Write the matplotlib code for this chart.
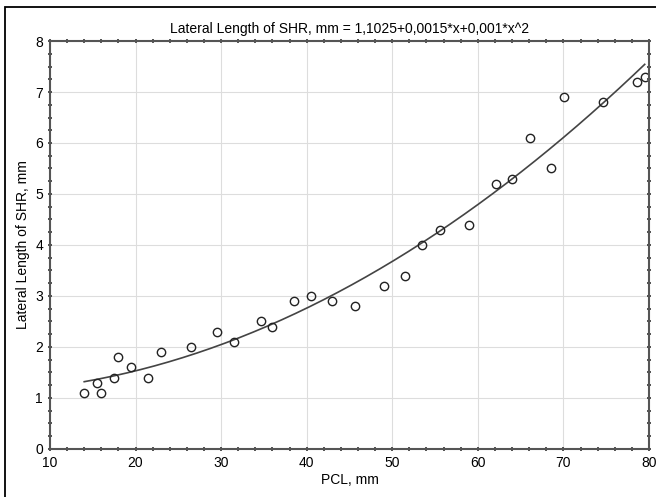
import matplotlib.pyplot as plt
import numpy as np
from matplotlib.patches import Rectangle
from matplotlib.ticker import MultipleLocator

plt.rcParams['font.family'] = ['Liberation Sans', 'DejaVu Sans']

# PCL, mm and lateral length of SHR, mm
pcl = [14.0, 15.5, 16.0, 17.5, 18.0, 19.5, 21.5, 23.0, 26.5, 29.5, 31.5,
       34.7, 35.9, 38.5, 40.5, 43.0, 45.6, 49.0, 51.5, 53.5, 55.6, 59.0,
       62.1, 64.0, 66.1, 68.5, 70.1, 74.6, 78.6, 79.5]
shr = [1.1, 1.3, 1.1, 1.4, 1.8, 1.6, 1.4, 1.9, 2.0, 2.3, 2.1,
       2.5, 2.4, 2.9, 3.0, 2.9, 2.8, 3.2, 3.4, 4.0, 4.3, 4.4,
       5.2, 5.3, 6.1, 5.5, 6.9, 6.8, 7.2, 7.3]
coef = [1.1025, 0.0015, 0.001]

fig = plt.figure(figsize=(6.56, 4.97), dpi=100)
ax = fig.add_axes([0.0762, 0.0966, 0.9131, 0.8209])

# frame round the whole figure (cut off at right and bottom)
fig.patches.append(Rectangle((0.0076, -0.05), 1.05, 0.036 + 1.0,
                             transform=fig.transFigure, fill=False,
                             edgecolor='black', linewidth=1.3))

xs = np.linspace(min(pcl), max(pcl), 200)
ys = coef[0] + coef[1] * xs + coef[2] * xs ** 2
ax.plot(xs, ys, color='#444444', linewidth=1.2)
ax.plot(pcl, shr, linestyle='none', marker='o', markersize=6,
        markerfacecolor='none', markeredgecolor='#222222', markeredgewidth=1.0)

ax.set_xlim(10, 80)
ax.set_ylim(0, 8)
ax.xaxis.set_major_locator(MultipleLocator(10))
ax.xaxis.set_minor_locator(MultipleLocator(2))
ax.yaxis.set_major_locator(MultipleLocator(1))
ax.yaxis.set_minor_locator(MultipleLocator(0.25))
ax.grid(True, which='major', color='#dddddd', linewidth=0.8)
ax.set_axisbelow(True)
for s in ax.spines.values():
    s.set_color('#555555')
    s.set_linewidth(1.5)
ax.tick_params(which='both', direction='inout', color='#333333', labelsize=10,
               top=True, right=True)
ax.tick_params(which='major', length=3, width=1.2)
ax.tick_params(which='minor', length=2.5, width=1.2)

ax.set_title('Lateral Length of SHR, mm = 1,1025+0,0015*x+0,001*x^2',
             fontsize=10, pad=6)
ax.set_xlabel('PCL, mm', fontsize=10, labelpad=2)
ax.set_ylabel('Lateral Length of SHR, mm', fontsize=10, labelpad=4)

fig.savefig('out.png', dpi=100)
